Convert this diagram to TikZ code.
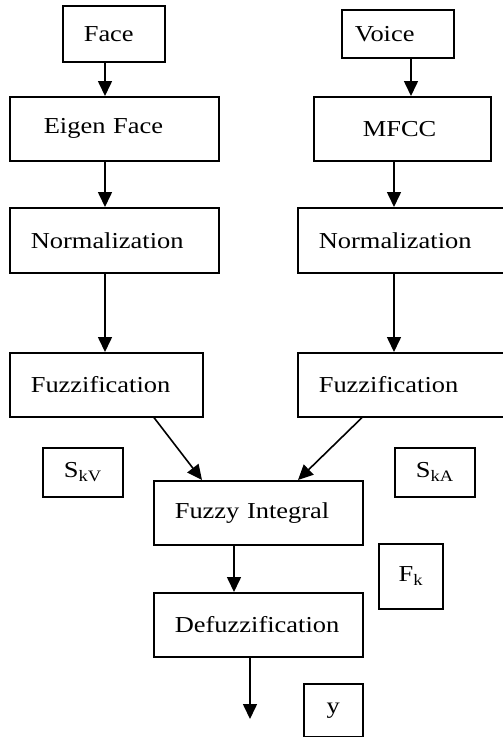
\documentclass[tikz,border=0pt]{standalone}
\usepackage{fontspec}
\setmainfont{Liberation Serif}[FakeStretch=1.16]
\usepackage{tikz}
\usetikzlibrary{arrows.meta, positioning}

\tikzset{
  blk/.style={draw, line width=1.6pt, anchor=north west, inner ysep=0pt, inner xsep=21pt, align=left},
  tag/.style={draw, line width=1.6pt, anchor=north west, inner sep=0pt},
  arr/.style={-{Triangle[width=14pt,length=15pt]}, line width=1.6pt}
}

\begin{document}
\begin{tikzpicture}[x=1pt, y=-1pt, font=\fontsize{22.8}{27}\selectfont]
\useasboundingbox (0,0) rectangle (503,737);

% Face branch
\node[blk, text width=60pt, minimum height=56pt] (face) at (62,5) {Face};
\node[blk, inner xsep=34pt, text width=141pt, minimum height=64pt] (eigen) at (9,96) {Eigen Face};
\node[blk, text width=167pt, minimum height=65pt] (norml) at (9,207) {Normalization};
\node[blk, text width=151pt, minimum height=64pt] (fuzzl) at (9,352) {Fuzzification};

% Voice branch
\node[blk, inner xsep=13pt, text width=86pt, minimum height=48pt] (voice) at (341,9) {Voice};
\node[blk, inner xsep=49pt, text width=79pt, minimum height=64pt] (mfcc) at (313,96) {MFCC};
\node[blk, text width=168pt, minimum height=65pt] (normr) at (297,207) {Normalization};
\node[blk, text width=168pt, minimum height=64pt] (fuzzr) at (297,352) {Fuzzification};

% Fusion
\node[blk, text width=167pt, minimum height=64pt] (fint) at (153,480) {Fuzzy Integral};
\node[blk, text width=167pt, minimum height=64pt] (defuz) at (153,592) {Defuzzification};

% Signal tags
\node[tag, minimum width=80pt, minimum height=49pt] (skv) at (42,447) {S\textsubscript{kV}};
\node[tag, minimum width=80pt, minimum height=49pt] (ska) at (394,447) {S\textsubscript{kA}};
\node[tag, minimum width=64pt, minimum height=65pt] (fk) at (378,543) {F\textsubscript{k}};
\node[tag, minimum width=59pt, minimum height=53pt] (yb) at (303,683) {y};
\coordinate (yout) at (250,719);

% Arrows
\draw[arr] (face.south -| 105,0) -- (eigen.north -| 105,0);
\draw[arr] (eigen.south -| 105,0) -- (norml.north -| 105,0);
\draw[arr] (norml.south -| 105,0) -- (fuzzl.north -| 105,0);
\draw[arr] (voice.south -| 411,0) -- (mfcc.north -| 411,0);
\draw[arr] (mfcc.south -| 394,0) -- (normr.north -| 394,0);
\draw[arr] (normr.south -| 394,0) -- (fuzzr.north -| 394,0);
\draw[arr] (fuzzl.south -| 154,0) -- (fint.north -| 202,0);
\draw[arr] (fuzzr.south -| 362,0) -- (fint.north -| 298,0);
\draw[arr] (fint.south -| 234,0) -- (defuz.north -| 234,0);
\draw[arr] (defuz.south -| 250,0) -- (yout);
\end{tikzpicture}
\end{document}
